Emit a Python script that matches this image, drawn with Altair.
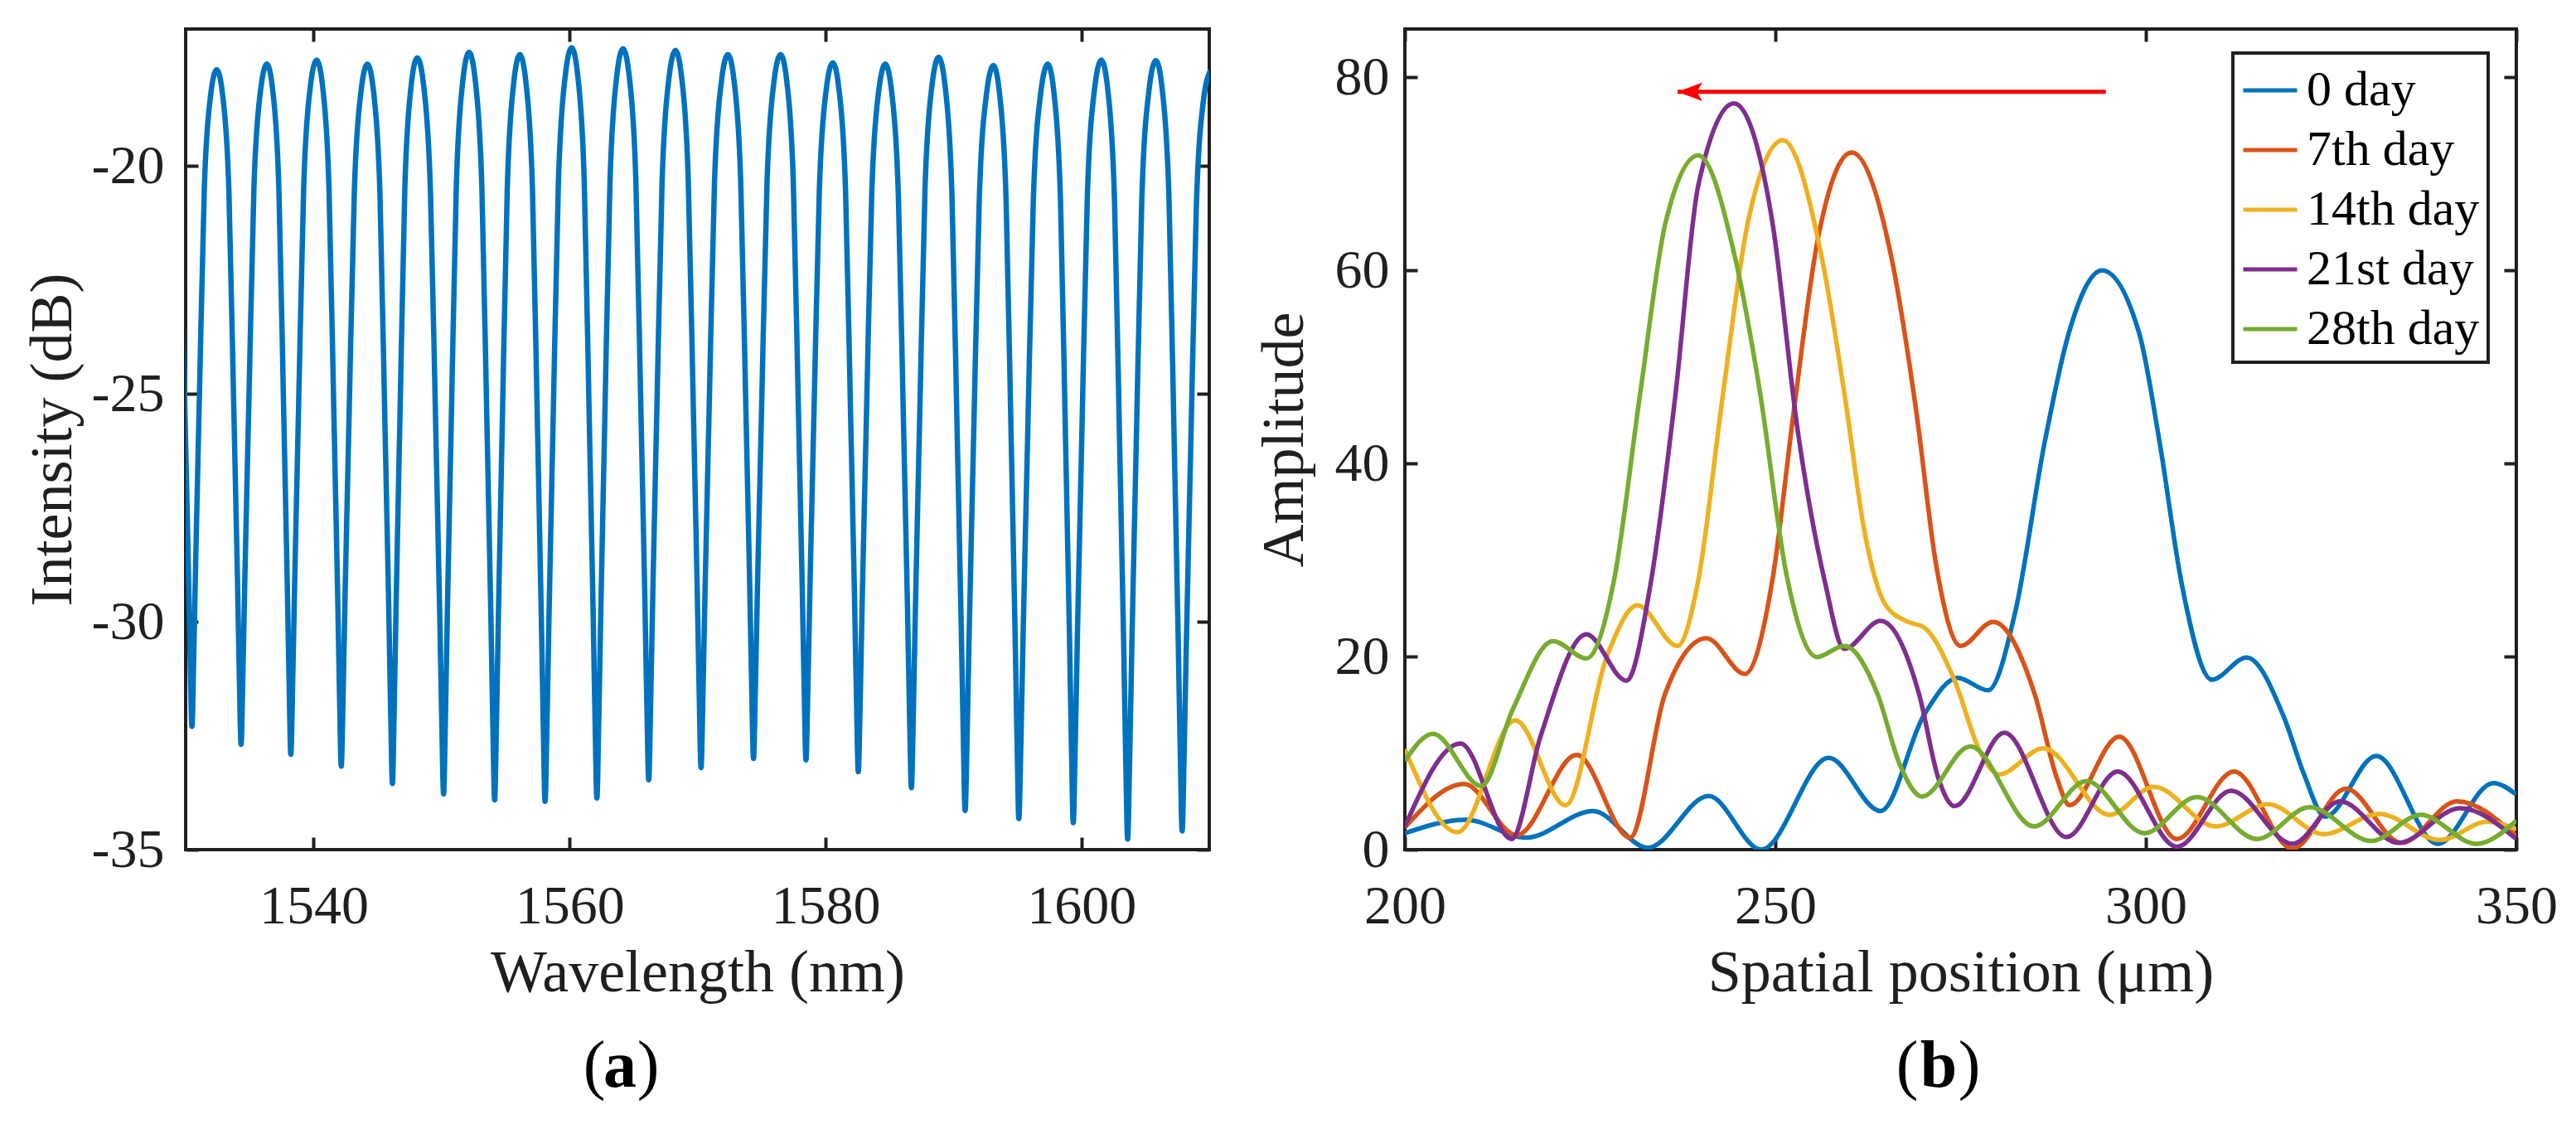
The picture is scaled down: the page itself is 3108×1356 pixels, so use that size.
import altair as alt
import pandas as pd

FONT = "Liberation Serif"
INK = "#1f1f1f"
TICK = 15

# ---------------- panel (a): transmission spectrum ----------------
wl_range = [1530, 1610]
db_range = [-35, -17]
wl_ticks = [1540, 1560, 1580, 1600]
db_ticks = [-35, -30, -25, -20]

peak_wl = [1528.60, 1532.43, 1536.35, 1540.24, 1544.21, 1548.10, 1552.15, 1556.12,
           1560.17, 1564.18, 1568.28, 1572.38, 1576.50, 1580.58, 1584.68, 1588.85,
           1593.13, 1597.38, 1601.57, 1605.83, 1610.10]
peak_db = [-18.00, -17.89, -17.77, -17.68, -17.77, -17.63, -17.51, -17.56,
           -17.41, -17.43, -17.47, -17.56, -17.56, -17.74, -17.77, -17.62,
           -17.80, -17.77, -17.68, -17.69, -17.90]
trough_wl = [1530.49, 1534.33, 1538.22, 1542.16, 1546.16, 1550.16, 1554.15, 1558.09,
             1562.14, 1566.19, 1570.28, 1574.38, 1578.48, 1582.57, 1586.72, 1590.92,
             1595.12, 1599.37, 1603.62, 1607.88]
trough_db = [-32.30, -32.69, -32.91, -33.17, -33.55, -33.78, -33.91, -33.94,
             -33.87, -33.47, -33.20, -33.00, -33.03, -33.29, -33.64, -34.14,
             -34.32, -34.41, -34.77, -34.59]
# fringe flank shape (fraction of half period from the dip,
# fraction of dip depth)
shape_t = [0.07, 0.15, 0.30, 0.50, 0.75]
shape_f = [0.10, 0.25, 0.50, 0.82, 0.96]

rows = []
for i, (tx, ty) in enumerate(zip(trough_wl, trough_db)):
    rows.append((tx, ty))
    for px, py in [(peak_wl[i], peak_db[i]), (peak_wl[i + 1], peak_db[i + 1])]:
        for t, f in zip(shape_t, shape_f):
            rows.append((tx + t * (px - tx), ty + f * (py - ty)))
for px, py in zip(peak_wl, peak_db):
    rows.append((px, py))
rows.sort()
df_a = pd.DataFrame(rows, columns=["wl", "db"])

# ---------------- panel (b): spatial spectra ----------------
pos_range = [200, 350]
amp_range = [0, 85]
pos_ticks = [200, 250, 300, 350]
amp_ticks = [0, 20, 40, 60, 80]

series_names = ["0 day", "7th day", "14th day", "21st day", "28th day"]
series_colors = ["#0072BD", "#D95319", "#EDB120", "#7E2F8E", "#77AC30"]

day0_x = [200, 208.2, 216.4, 225.4, 232.8, 241.0, 248.1, 257.2, 264.2, 270.1, 274.6, 278.7,
          282.4, 286.3, 289.6, 294.1, 299.1, 301.9, 304.8, 308.9, 313.6, 318.7, 321.3,
          324.2, 331.1, 339.4, 346.9, 350]
day0_y = [1.7, 3.1, 1.25, 4.0, 0.2, 5.55, 0.0, 9.5, 4.0, 14.0, 17.8, 16.5,
          24.7, 42.0, 53.5, 60.0, 53.5, 42.0, 27.7, 17.6, 19.9, 13.6, 7.9,
          3.4, 9.7, 0.6, 6.9, 5.7]

day7_x = [200, 208.0, 215.1, 223.2, 230.4, 235.1, 240.7, 245.9, 249.6, 252.5, 255.7, 260.3,
          265.7, 269.0, 271.7, 275.0, 279.4, 285.0, 288.0, 289.7, 296.4, 304.2, 311.9,
          319.8, 327.0, 334.5, 342.0, 350]
day7_y = [2.3, 6.8, 1.5, 9.8, 1.25, 16.1, 21.9, 18.2, 27.9, 45.5, 63.1, 72.2,
          61.2, 45.5, 29.5, 21.1, 23.6, 16.1, 7.4, 4.6, 11.7, 1.1, 8.1,
          0.1, 6.3, 0.7, 5.0, 1.4]

day14_x = [200, 207.1, 214.9, 221.7, 227.3, 231.4, 236.8, 239.6, 242.9, 246.3, 251.0, 256.3,
           259.6, 261.9, 264.9, 267.9, 270.1, 274.2, 277.6, 280.2, 286.2, 295.1, 301.1,
           309.4, 316.5, 324.0, 331.5, 339.7, 346.1, 350]
day14_y = [10.4, 1.8, 13.4, 4.6, 20.1, 25.3, 21.1, 27.9, 47.0, 65.0, 73.5, 61.2,
           45.8, 33.5, 25.3, 23.6, 23.0, 17.5, 10.2, 7.8, 10.5, 3.6, 6.5,
           2.4, 4.7, 1.6, 3.7, 1.0, 2.9, 2.1]

day21_x = [200, 207.5, 214.4, 218.3, 224.5, 229.9, 233.2, 236.5, 239.6, 244.4, 249.6, 253.0,
           256.7, 259.3, 264.2, 269.4, 272.0, 274.2, 280.9, 289.3, 296.2, 304.2, 311.5,
           319.8, 326.2, 334.1, 342.4, 350]
day21_y = [2.4, 11.0, 1.1, 11.7, 22.3, 17.5, 27.7, 47.0, 68.8, 77.3, 65.0, 43.5,
           27.7, 20.8, 23.7, 16.1, 7.4, 4.5, 12.1, 1.3, 8.1, 0.3, 6.1,
           0.6, 5.0, 0.7, 4.3, 1.1]

day28_x = [200, 203.8, 210.3, 214.6, 220.0, 224.5, 228.2, 231.8, 235.2, 239.6, 244.6, 247.9,
           251.5, 255.6, 259.3, 263.8, 266.8, 269.8, 276.3, 284.9, 292.0, 299.8, 306.9,
           315.0, 322.1, 330.4, 337.1, 344.6, 350]
day28_y = [9.2, 12.0, 6.6, 14.6, 21.6, 19.8, 27.8, 47.5, 65.0, 71.9, 61.2, 47.5,
           28.5, 19.95, 21.1, 16.1, 8.8, 5.5, 10.7, 2.4, 7.1, 1.7, 5.45,
           1.1, 4.4, 0.9, 3.6, 0.6, 3.0]

series_x = [day0_x, day7_x, day14_x, day21_x, day28_x]
series_y = [day0_y, day7_y, day14_y, day21_y, day28_y]
frames = []
for name, xs, ys in zip(series_names, series_x, series_y):
    frames.append(pd.DataFrame({"pos": xs, "amp": ys, "series": name}))
df_b = pd.concat(frames, ignore_index=True)

arrow_from = [294.6]
arrow_to = [236.8]
arrow_amp = [78.5]
df_arrow = pd.DataFrame({"x": arrow_from, "x2": arrow_to, "y": arrow_amp})

caption_a = ["(", "a", ")"]
caption_b = ["(", "b", ")"]

W_A, W_B, H = 1235, 1341, 990


def ax_bottom(ticks, title, w):
    return alt.Axis(orient="bottom", values=ticks, offset=-TICK, tickSize=TICK, tickWidth=4,
                    tickColor=INK, domain=False, grid=False, labelFont=FONT,
                    labelFontSize=66, labelColor=INK, labelPadding=36, labelFlush=False,
                    labelExpr="datum.value + ''", title=title, titleFont=FONT,
                    titleFontSize=72, titleFontWeight="normal", titleColor=INK,
                    titleX=w / 2, titleY=185, titleBaseline="alphabetic", titleAlign="center")


def ax_left(ticks, title, pad, tx):
    return alt.Axis(orient="left", values=ticks, offset=-TICK, tickSize=TICK, tickWidth=4,
                    tickColor=INK, domain=False, grid=False, labelFont=FONT,
                    labelFontSize=66, labelColor=INK, labelPadding=pad,
                    labelExpr="datum.value + ''", title=title, titleFont=FONT,
                    titleFontSize=72, titleFontWeight="normal", titleColor=INK,
                    titleX=tx, titleY=H / 2, titleAngle=270, titleBaseline="alphabetic",
                    titleAlign="center")


def ax_mirror(orient, ticks):
    return alt.Axis(orient=orient, values=ticks, offset=-TICK, tickSize=TICK, tickWidth=4,
                    tickColor=INK, domain=False, grid=False, labels=False, title=None)


def caption(glyphs, xs):
    layers = []
    for g, x, w in zip(glyphs, xs, ["normal", "bold", "normal"]):
        layers.append(
            alt.Chart(pd.DataFrame({"c": [g]})).mark_text(
                font=FONT, fontSize=80, fontWeight=w, color="black", align="center",
                baseline="alphabetic").encode(x=alt.value(x), y=alt.value(1276), text="c:N"))
    return layers


# ----- left chart
xa = alt.Scale(domain=wl_range, nice=False, zero=False)
ya = alt.Scale(domain=db_range, nice=False, zero=False)

a_line = alt.Chart(df_a).mark_line(color="#0072BD", strokeWidth=6.5, interpolate="monotone",
                                   clip=True).encode(
    x=alt.X("wl:Q", scale=xa, axis=ax_bottom(wl_ticks, "Wavelength (nm)", W_A)),
    y=alt.Y("db:Q", scale=ya, axis=ax_left(db_ticks, "Intensity (dB)", 26, -154)),
)
a_mirror = alt.Chart(df_a).mark_point(opacity=0, size=1).encode(
    x=alt.X("wl:Q", scale=xa, axis=ax_mirror("top", wl_ticks)),
    y=alt.Y("db:Q", scale=ya, axis=ax_mirror("right", db_ticks)),
)

left = alt.layer(a_line, a_mirror, *caption(caption_a, [493, 524, 558])).resolve_axis(
    x="independent", y="independent").properties(width=W_A, height=H)

# ----- right chart
xb = alt.Scale(domain=pos_range, nice=False, zero=False)
yb = alt.Scale(domain=amp_range, nice=False, zero=False)

b_lines = alt.Chart(df_b).mark_line(strokeWidth=5.5, interpolate="monotone", clip=True).encode(
    x=alt.X("pos:Q", scale=xb, axis=ax_bottom(pos_ticks, "Spatial position (μm)", W_B)),
    y=alt.Y("amp:Q", scale=yb, axis=ax_left(amp_ticks, "Amplitude", 19, -139)),
    color=alt.Color("series:N", scale=alt.Scale(domain=series_names, range=series_colors),
                    legend=alt.Legend(orient="none", legendX=999, legendY=29, title=None)),
    order=alt.Order("pos:Q"),
)
b_mirror = alt.Chart(df_b).mark_point(opacity=0, size=1).encode(
    x=alt.X("pos:Q", scale=xb, axis=ax_mirror("top", pos_ticks)),
    y=alt.Y("amp:Q", scale=yb, axis=ax_mirror("right", amp_ticks)),
)
b_shaft = alt.Chart(df_arrow).mark_rule(color="#FF0000", strokeWidth=5).encode(
    x=alt.X("x:Q", scale=xb, axis=None), x2="x2:Q", y=alt.Y("y:Q", scale=yb, axis=None))
b_head = alt.Chart(df_arrow).mark_point(
    shape="M0,0L2,-0.75L1.55,0L2,0.75Z", size=900, filled=True, color="#FF0000",
    opacity=1).encode(x=alt.X("x2:Q", scale=xb, axis=None), y=alt.Y("y:Q", scale=yb, axis=None))

right = alt.layer(b_lines, b_mirror, b_shaft, b_head, *caption(caption_b, [606, 644, 681])).resolve_axis(
    x="independent", y="independent").properties(width=W_B, height=H)

chart = alt.hconcat(left, right, spacing=236, bounds="flush").resolve_legend(
    color="independent"
).properties(
    padding={"left": 17, "top": 23, "right": 5, "bottom": 5}
).configure_view(stroke=INK, strokeWidth=4).configure_legend(
    fillColor="white", strokeColor=INK, strokeWidth=4, padding=10, symbolType="stroke",
    symbolSize=4225, symbolStrokeWidth=5, labelFont=FONT, labelFontSize=60,
    labelColor="black", labelOffset=9, rowPadding=7, labelLimit=400
)

chart.save("out.html", embed_options={"renderer": "svg", "actions": False})
